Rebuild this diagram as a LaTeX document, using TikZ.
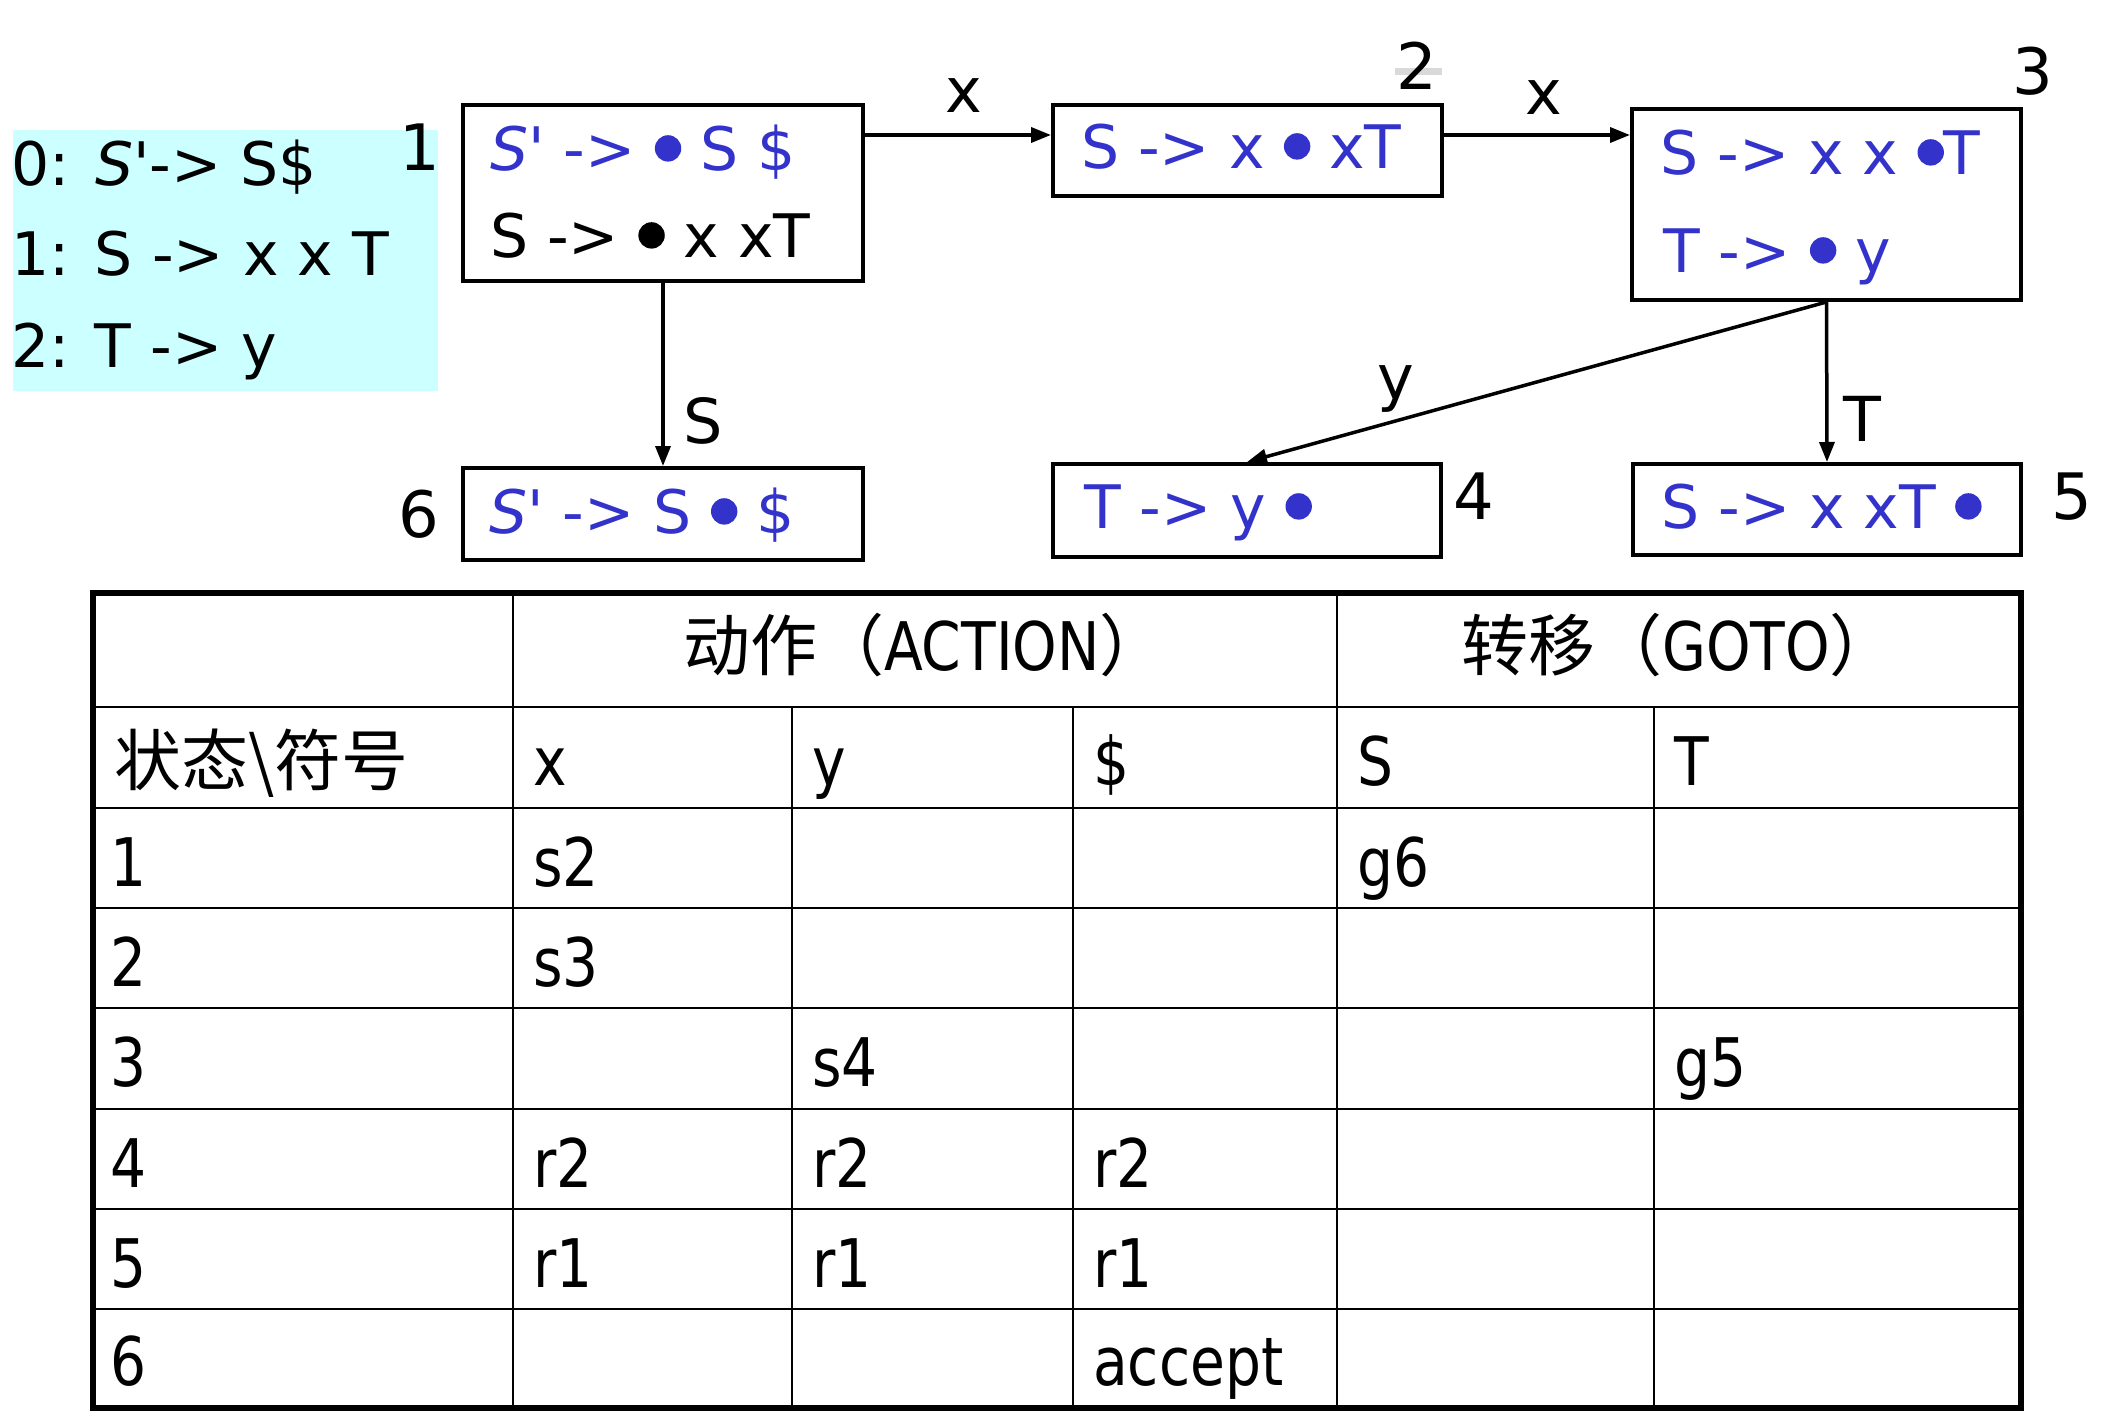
\documentclass[tikz,border=0pt]{standalone}
\usepackage{fontspec}
\usetikzlibrary{arrows.meta}
\setmainfont{DejaVu Sans}
\newfontfamily\cjk{Noto Sans CJK SC}
\newfontfamily\tabfont{DejaVu Sans Condensed}[FakeStretch=0.94]
\definecolor{itemblue}{HTML}{3333CC}
\definecolor{gramfill}{HTML}{CCFFFF}
\newcommand\bul{\tikz[baseline=0pt]\fill (0pt,0.36em) circle[radius=0.22em];}
\newcommand\Sp{\textit{S\textquotesingle}}
\tikzset{
  box/.style={draw, line width=4pt, inner sep=0pt, rectangle},
  itm/.style={anchor=base west, inner sep=0pt, font=\fontsize{60}{60}\selectfont},
  blu/.style={text=itemblue},
  lbl/.style={anchor=base, inner sep=0pt, font=\fontsize{64}{64}\selectfont},
  elbl/.style={anchor=base, inner sep=0pt, font=\fontsize{62}{62}\selectfont},
  arr/.style={line width=3.5pt, -{Triangle[length=20pt,width=15pt]}},
  cell/.style={anchor=base west, inner sep=0pt, font=\tabfont\fontsize{67}{67}\selectfont},
  hdr/.style={anchor=base, inner sep=0pt, font=\tabfont\fontsize{67}{67}\selectfont},
  grid/.style={line width=2.5pt},
  outerline/.style={line width=6pt}
}
\begin{document}
\begin{tikzpicture}[x=1pt,y=-1pt]
\path[use as bounding box, fill=white] (0,0) rectangle (2116,1418);

% grammar
\node[fill=gramfill, minimum width=425pt, minimum height=261pt, inner sep=0pt] (gram) at (225.5,260.5) {};
\node[itm] (g0) at (11,185) {0: \Sp-> S\$};
\node[itm] (g1) at (11,275) {1: S -> x x T};
\node[itm] (g2) at (11,367) {2: T -> y};

% boxes
\node[box, minimum width=400pt, minimum height=176pt] (b1) at (663,193) {};
\node[box, minimum width=389pt, minimum height=91pt] (b2) at (1247.5,150.5) {};
\node[box, minimum width=389pt, minimum height=191pt] (b3) at (1826.5,204.5) {};
\node[box, minimum width=388pt, minimum height=93pt] (b4) at (1247,510.5) {};
\node[box, minimum width=388pt, minimum height=91pt] (b5) at (1827,509.5) {};
\node[box, minimum width=400pt, minimum height=92pt] (b6) at (663,514) {};

% box contents
\node[itm, blu] (t1a) at (490,170) {\Sp{} -> \bul{} S \$};
\node[itm] (t1b) at (490,257) {S -> \bul{} x xT};
\node[itm, blu] (t2) at (1081,168) {S -> x \bul{} xT};
\node[itm, blu] (t3a) at (1660,174) {S -> x x \bul{}T};
\node[itm, blu] (t3b) at (1663,272) {T -> \bul{} y};
\node[itm, blu] (t4) at (1084,528) {T -> y \bul};
\node[itm, blu] (t5) at (1661,528) {S -> x xT \bul};
\node[itm, blu] (t6) at (489,533) {\Sp{} -> S \bul{} \$};

% state labels
\fill[gray!30] (1395,68) rectangle (1442,75);
\node[lbl] (n1) at (420,170) {1};
\node[lbl] (n2) at (1417,90) {2};
\node[lbl] (n3) at (2033,95) {3};
\node[lbl] (n4) at (1474,519) {4};
\node[lbl] (n5) at (2072,519) {5};
\node[lbl] (n6) at (419,537) {6};

% connectors
\draw[arr] ([yshift=-32pt]b1.north east) -- ([yshift=-32pt]b2.north west);
\draw[arr] ([yshift=-32pt]b2.north east) -- ([yshift=-28pt]b3.north west);
\draw[arr] (b1.south) -- (b6.north);
\draw[arr] (b3.south) -- (b4.north);
\draw[arr] (b3.south) -- (b5.north);

% edge labels
\node[elbl] (e1) at (964,113) {x};
\node[elbl] (e2) at (1544,114) {x};
\node[elbl] (e3) at (703,443) {S};
\node[elbl] (e4) at (1396,399) {y};
\node[elbl] (e5) at (1862,441) {T};

% table
\draw[grid] (93,707) -- (2021,707);
\foreach \yy in {808,908,1008,1109,1209,1309} \draw[grid] (93,\yy) -- (2021,\yy);
\draw[grid] (513,593) -- (513,1408);
\draw[grid] (1337,593) -- (1337,1408);
\foreach \xx in {792,1073,1654} \draw[grid] (\xx,707) -- (\xx,1408);
\draw[outerline] (93,593) rectangle (2021,1408);

\node[hdr] (hA) at (925,670) {{\cjk 动作（}ACTION{\cjk ）}};
\node[hdr] (hG) at (1679,670) {{\cjk 转移（}GOTO{\cjk ）}};

\node[cell] (c00) at (114,785) {{\cjk 状态\textbackslash 符号}};
\node[cell] (c01) at (533,785) {x};
\node[cell] (c02) at (812,785) {y};
\node[cell] (c03) at (1093,785) {\$};
\node[cell] (c04) at (1357,785) {S};
\node[cell] (c05) at (1674,785) {T};

\node[cell] (r1) at (110,886) {1};
\node[cell] (r1a) at (533,886) {s2};
\node[cell] (r1g) at (1357,886) {g6};
\node[cell] (r2) at (110,986) {2};
\node[cell] (r2a) at (533,986) {s3};
\node[cell] (r3) at (110,1086) {3};
\node[cell] (r3a) at (812,1086) {s4};
\node[cell] (r3g) at (1674,1086) {g5};
\node[cell] (r4) at (110,1187) {4};
\node[cell] (r4a) at (533,1187) {r2};
\node[cell] (r4b) at (812,1187) {r2};
\node[cell] (r4c) at (1093,1187) {r2};
\node[cell] (r5) at (110,1287) {5};
\node[cell] (r5a) at (533,1287) {r1};
\node[cell] (r5b) at (812,1287) {r1};
\node[cell] (r5c) at (1093,1287) {r1};
\node[cell] (r6) at (110,1385) {6};
\node[cell] (r6c) at (1093,1385) {accept};
\end{tikzpicture}
\end{document}
